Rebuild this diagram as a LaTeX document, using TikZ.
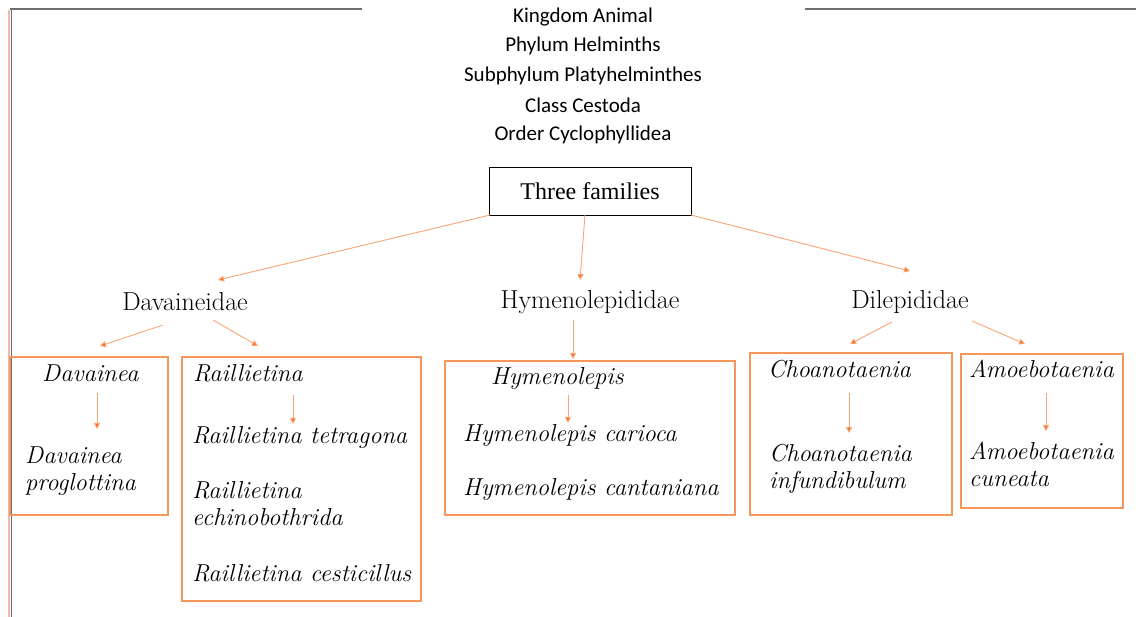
\documentclass[tikz,border=0pt]{standalone}
\usepackage{fontspec}
\newfontfamily\calibri{Carlito}
\newfontfamily\timesf{Liberation Serif}
\usetikzlibrary{arrows.meta}
\definecolor{boxorange}{RGB}{246,150,90}
\definecolor{linkorange}{RGB}{250,165,115}
\definecolor{tiporange}{RGB}{245,110,40}
\definecolor{rulegray}{RGB}{110,110,110}
\definecolor{salmon}{RGB}{240,185,165}
\tikzset{
  x=1pt, y=-1pt,
  toptext/.style={font=\calibri\fontsize{21}{24}\selectfont, text=black, inner sep=0pt},
  famtext/.style={font=\fontsize{26}{30}\selectfont, text=black, inner sep=0pt},
  gentext/.style={font=\itshape\fontsize{24.5}{27}\selectfont, text=black, inner sep=0pt, anchor=west, align=left},
  genbox/.style={draw=boxorange, line width=1.6pt},
  link/.style={draw=linkorange, line width=0.9pt, -{Triangle[length=6pt,width=6pt,fill=tiporange]}},
  rootbox/.style={draw=black, line width=0.8pt, minimum width=202pt, minimum height=48pt, font=\timesf\fontsize{24}{27}\selectfont, inner sep=0pt}
}
\begin{document}
\begin{tikzpicture}
\useasboundingbox (0,0) rectangle (1136,617);
% frame lines
\draw[rulegray, line width=1.5pt] (10,9) -- (362,9);
\draw[rulegray, line width=1.5pt] (805,9) -- (1136,9);
\draw[salmon, line width=1.2pt] (9,10) -- (9,617);
\draw[rulegray, line width=1pt] (11,10) -- (11,617);
% title lines
\node[toptext] (t1) at (583,17) {Kingdom Animal};
\node[toptext] (t2) at (583,46) {Phylum Helminths};
\node[toptext] (t3) at (583,76) {Subphylum Platyhelminthes};
\node[toptext] (t4) at (583,105) {Class Cestoda};
\node[toptext] (t5) at (583,135) {Order Cyclophyllidea};
% root
\node[rootbox] (root) at (590,191) {Three families};
% families
\node[famtext] (dav) at (185,302) {Davaineidae};
\node[famtext] (hym) at (590,302) {Hymenolepididae};
\node[famtext] (dil) at (910,302) {Dilepididae};
\coordinate (rl) at (490,215);
\coordinate (rm) at (585,215);
\coordinate (rr) at (691,215);
\coordinate (davt) at (218,280);
\coordinate (hymt) at (580,280);
\coordinate (dilt) at (910,271);
\draw[link] (rl) -- (davt);
\draw[link] (rm) -- (hymt);
\draw[link] (rr) -- (dilt);
% boxes
\draw[genbox] (10,357) rectangle (168,515);
\draw[genbox] (182,357) rectangle (421,601);
\draw[genbox] (445,361) rectangle (735,515);
\draw[genbox] (750,353) rectangle (952,515);
\draw[genbox] (961,354) rectangle (1123,508);
% family to genus links
\coordinate (d1s) at (163,325); \coordinate (d1e) at (100,346);
\coordinate (d2s) at (213,320); \coordinate (d2e) at (258,346);
\coordinate (h1s) at (573,320); \coordinate (h1e) at (573,359);
\coordinate (c1s) at (892,322); \coordinate (c1e) at (850,344);
\coordinate (c2s) at (972,321); \coordinate (c2e) at (1025,344);
\draw[link] (d1s) -- (d1e);
\draw[link] (d2s) -- (d2e);
\draw[link] (h1s) -- (h1e);
\draw[link] (c1s) -- (c1e);
\draw[link] (c2s) -- (c2e);
% Davainea
\node[gentext] (g1) at (42,373) {Davainea};
\node[gentext] (s1) at (25,471) {Davainea\\proglottina};
\draw[link] (97,393) -- (97,429);
% Raillietina
\node[gentext] (g2) at (193,373) {Raillietina};
\node[gentext] (s2a) at (192,437) {Raillietina tetragona};
\node[gentext] (s2b) at (192,504) {Raillietina\\echinobothrida};
\node[gentext] (s2c) at (192,573) {Raillietina cesticillus};
\draw[link] (293,395) -- (293,424);
% Hymenolepis
\node[gentext] (g3) at (491,378) {Hymenolepis};
\node[gentext] (s3a) at (463,435) {Hymenolepis carioca};
\node[gentext] (s3b) at (463,489) {Hymenolepis cantaniana};
\draw[link] (568,395) -- (568,423);
% Choanotaenia
\node[gentext] (g4) at (768,369) {Choanotaenia};
\node[gentext] (s4) at (769,469) {Choanotaenia\\infundibulum};
\draw[link] (849,393) -- (849,433);
% Amoebotaenia
\node[gentext] (g5) at (969,369) {Amoebotaenia};
\node[gentext] (s5) at (969,464) {Amoebotaenia\\cuneata};
\draw[link] (1046,393) -- (1046,431);
\end{tikzpicture}
\end{document}
